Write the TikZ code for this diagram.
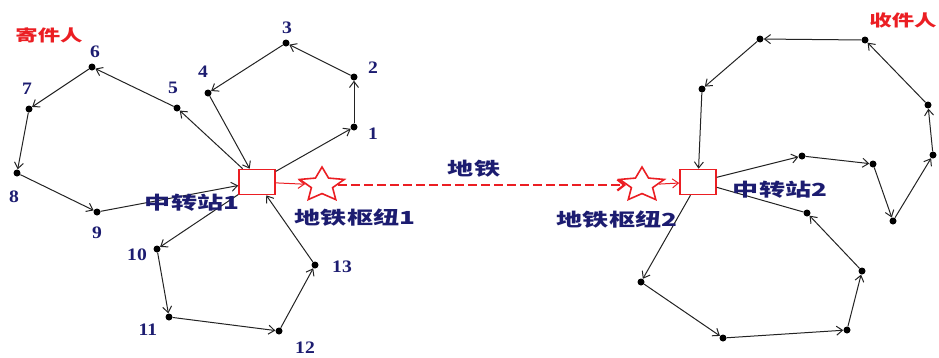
\documentclass[tikz,border=0pt]{standalone}
\usepackage{fontspec}
\newfontfamily\cjk{Noto Sans CJK SC}
\newfontfamily\numfont{Liberation Serif}
\usetikzlibrary{arrows.meta,shapes.geometric}
\definecolor{navy}{RGB}{28,28,112}
\definecolor{hubred}{RGB}{235,30,35}
\definecolor{linegray}{RGB}{35,35,35}
\tikzset{
  dot/.style={circle, fill=black, inner sep=0pt, minimum size=7pt},
  numlbl/.style={font=\numfont\bfseries\fontsize{17.5}{17.5}\selectfont, text=navy, inner sep=0pt, xscale=1.12},
  cjklbl/.style={font=\cjk\bfseries\fontsize{18}{18}\selectfont, text=navy, inner sep=0pt, xscale=1.45},
  redlbl/.style={font=\cjk\bfseries\fontsize{16}{16}\selectfont, text=hubred, inner sep=0pt, xscale=1.4},
  hub/.style={draw=hubred, line width=1.6pt, fill=white, minimum width=36pt, minimum height=25pt, inner sep=0pt},
  hubstar/.style={star, star points=5, star point ratio=2.1, draw=hubred, line width=1.6pt, fill=white,
                  minimum size=36pt, inner sep=0pt, xscale=1.3},
  route/.style={draw=linegray, line width=1pt, -{Straight Barb[length=6pt,width=9pt]}},
  plain/.style={draw=linegray, line width=1pt},
  feed/.style={draw=hubred, line width=1pt, -{Straight Barb[length=6pt,width=9pt]}},
  metro/.style={draw=hubred, line width=2.2pt, dash pattern=on 9pt off 4pt,
                -{Straight Barb[length=7pt,width=11pt]}}
}
\begin{document}
\begin{tikzpicture}[x=1pt,y=-1pt]
\useasboundingbox (0,0) rectangle (939,357);

% transfer stations and metro hubs
\node[hub] (h1) at (257,182) {};
\node[hub] (h2) at (698,182) {};
\node[hubstar] (s1) at (322,185) {};
\node[hubstar] (s2) at (642,185) {};

% pickup points around station 1
\node[dot] (p1) at (354,127) {};
\node[dot] (p2) at (354,77) {};
\node[dot] (p3) at (286,43) {};
\node[dot] (p4) at (208,93) {};
\node[dot] (p5) at (177,108) {};
\node[dot] (p6) at (92,67) {};
\node[dot] (p7) at (29,109) {};
\node[dot] (p8) at (17,173) {};
\node[dot] (p9) at (97,212) {};
\node[dot] (p10) at (157,249) {};
\node[dot] (p11) at (169,317) {};
\node[dot] (p12) at (279,331) {};
\node[dot] (p13) at (315,265) {};

\node[numlbl] (n1) at (373,134) {1};
\node[numlbl] (n2) at (373,68) {2};
\node[numlbl] (n3) at (287,28) {3};
\node[numlbl] (n4) at (203,72) {4};
\node[numlbl] (n5) at (173,88) {5};
\node[numlbl] (n6) at (95,52) {6};
\node[numlbl] (n7) at (27,89) {7};
\node[numlbl] (n8) at (14,197) {8};
\node[numlbl] (n9) at (97,233) {9};
\node[numlbl] (n10) at (137,255) {10};
\node[numlbl] (n11) at (148,330) {11};
\node[numlbl] (n12) at (305,348) {12};
\node[numlbl] (n13) at (342,267) {13};

% delivery points around station 2
\node[dot] (q1) at (802,156) {};
\node[dot] (q2) at (873,164) {};
\node[dot] (q3) at (893,221) {};
\node[dot] (q4) at (933,155) {};
\node[dot] (q5) at (928,105) {};
\node[dot] (q6) at (865,40) {};
\node[dot] (q7) at (760,39) {};
\node[dot] (q8) at (702,89) {};
\node[dot] (q9) at (641,282) {};
\node[dot] (q10) at (723,338) {};
\node[dot] (q11) at (847,330) {};
\node[dot] (q12) at (862,271) {};
\node[dot] (q13) at (807,213) {};

% pickup loops
\draw[route] (h1) -- (p1);
\draw[route] (p1) -- (p2);
\draw[route] (p2) -- (p3);
\draw[route] (p3) -- (p4);
\draw[route] (p4) -- (h1);
\draw[route] (h1) -- (p5);
\draw[route] (p5) -- (p6);
\draw[route] (p6) -- (p7);
\draw[route] (p7) -- (p8);
\draw[route] (p8) -- (p9);
\draw[route] (p9) -- (h1);
\draw[route] (h1) -- (p10);
\draw[route] (p10) -- (p11);
\draw[route] (p11) -- (p12);
\draw[route] (p12) -- (p13);
\draw[route] (p13) -- (h1);

% delivery loops
\draw[route] (h2) -- (q1);
\draw[route] (q1) -- (q2);
\draw[route] (q2) -- (q3);
\draw[route] (q3) -- (q4);
\draw[route] (q4) -- (q5);
\draw[route] (q5) -- (q6);
\draw[route] (q6) -- (q7);
\draw[route] (q7) -- (q8);
\draw[route] (q8) -- (h2);
\draw[route] (h2) -- (q9);
\draw[route] (q9) -- (q10);
\draw[route] (q10) -- (q11);
\draw[route] (q11) -- (q12);
\draw[route] (q12) -- (q13);
\draw[plain] (q13) -- (h2);

% metro link
\draw[feed] (h1) -- (s1);
\draw[metro] (s1) -- (s2);
\draw[feed] (s2) -- (h2);

% labels
\node[cjklbl] (t1) at (192,203) {中转站1};
\node[cjklbl] (t2) at (355,218) {地铁枢纽1};
\node[cjklbl] (t3) at (474,169) {地铁};
\node[cjklbl] (t4) at (617,220) {地铁枢纽2};
\node[cjklbl] (t5) at (780,190) {中转站2};
\node[redlbl] (r1) at (49,35) {寄件人};
\node[redlbl] (r2) at (903,20) {收件人};
\end{tikzpicture}
\end{document}
